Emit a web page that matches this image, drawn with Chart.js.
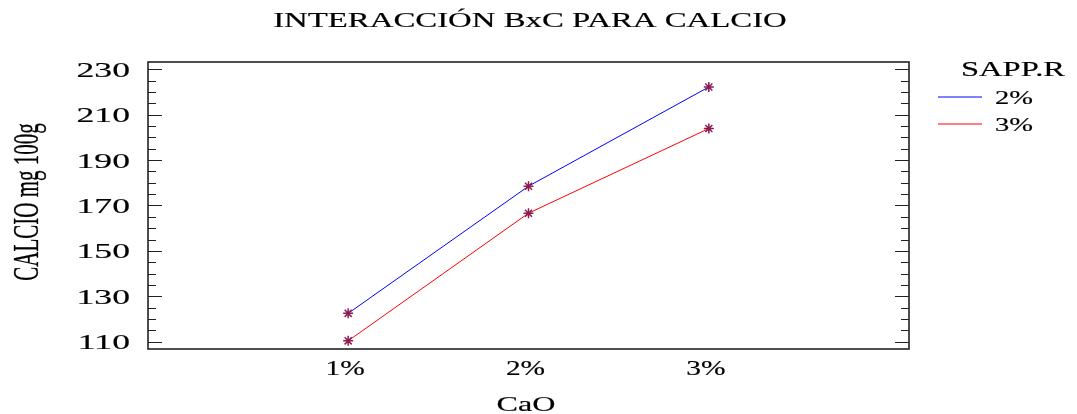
<!DOCTYPE html>
<html>
<head>
<meta charset="utf-8">
<script src="https://cdn.jsdelivr.net/npm/chart.js@4.4.1/dist/chart.umd.min.js"></script>
<style>
  html, body { margin: 0; padding: 0; background: #fff; }
  canvas { display: block; }
</style>
</head>
<body>
<canvas id="chart" width="1077" height="414"></canvas>
<script>
const categories = ['1%', '2%', '3%'];
const seriesNames = ['2%', '3%'];
const sapp2 = [122.5, 178.5, 222.2];
const sapp3 = [110.4, 166.6, 203.9];
const yLabels = [110, 130, 150, 170, 190, 210, 230];
const yMinorStep = 5;

const titleText = 'INTERACCIÓN BxC PARA CALCIO';
const xTitle = 'CaO';
const yTitle = 'CALCIO mg 100g';
const legendTitle = 'SAPP.R';

const seriesColors = ['#0000ff', '#ff0000'];
const markerColor = '#8b1c52';

// the original picture is stretched sideways, so text is drawn with a horizontal scale
function stretchText(ctx, text, x, y, size, sx, align, rotated) {
    ctx.save();
    ctx.translate(x, y);
    if (rotated) {
        ctx.rotate(-Math.PI / 2);
        ctx.scale(1, sx);
    } else {
        ctx.scale(sx, 1);
    }
    ctx.font = size + 'px "Liberation Serif"';
    ctx.textAlign = align;
    ctx.textBaseline = 'alphabetic';
    ctx.fillStyle = '#000';
    ctx.strokeStyle = '#000';
    ctx.lineWidth = 0.18;
    ctx.fillText(text, 0, 0);
    ctx.strokeText(text, 0, 0);
    ctx.restore();
}

const framePlugin = {
    id: 'frame',
    beforeDatasetsDraw(chart) {
        const ctx = chart.ctx;
        const { left, right, top, bottom } = chart.chartArea;
        const yScale = chart.scales.y;
        ctx.save();
        ctx.strokeStyle = '#222';
        ctx.lineWidth = 1.6;
        ctx.strokeRect(left, top, right - left, bottom - top);

        ctx.lineWidth = 1.2;
        ctx.beginPath();
        for (let v = yLabels[0]; v <= yLabels[yLabels.length - 1]; v += yMinorStep) {
            const py = Math.round(yScale.getPixelForValue(v)) + 0.5;
            const len = yLabels.includes(v) ? 14 : 8;
            ctx.moveTo(left, py);
            ctx.lineTo(left + len, py);
            ctx.moveTo(right, py);
            ctx.lineTo(right - len, py);
        }
        ctx.stroke();
        ctx.restore();
    },
    afterDraw(chart) {
        const ctx = chart.ctx;
        const xScale = chart.scales.x;
        const yScale = chart.scales.y;

        stretchText(ctx, titleText, 530, 27, 20, 1.64, 'center');

        yLabels.forEach(v => {
            stretchText(ctx, String(v), 130, yScale.getPixelForValue(v) + 7.5, 22, 1.62, 'right');
        });

        categories.forEach((c, i) => {
            stretchText(ctx, c, xScale.getPixelForValue(i + 1) - 3, 375, 21, 1.4, 'center');
        });

        stretchText(ctx, xTitle, 526, 411, 21, 1.53, 'center');
        stretchText(ctx, yTitle, 38, 202, 21, 1.75, 'center', true);

        // legend
        stretchText(ctx, legendTitle, 1013, 76, 21, 1.55, 'center');
        const legendY = [97, 124];
        seriesNames.forEach((name, i) => {
            ctx.save();
            ctx.strokeStyle = seriesColors[i];
            ctx.lineWidth = 1;
            ctx.beginPath();
            ctx.moveTo(938, legendY[i]);
            ctx.lineTo(982, legendY[i]);
            ctx.stroke();
            ctx.restore();
            stretchText(ctx, name, 995, legendY[i] + 6.5, 19, 1.5, 'left');
        });
    }
};

function points(values) {
    return categories.map((c, i) => ({ x: i + 1, y: values[i] }));
}

const ctx = document.getElementById('chart').getContext('2d');

const chart = new Chart(ctx, {
    type: 'line',
    data: {
        datasets: [{
            label: seriesNames[0],
            data: points(sapp2),
            borderColor: seriesColors[0],
            borderWidth: 1,
            pointStyle: 'star',
            pointRadius: 5,
            pointBorderColor: markerColor,
            pointBorderWidth: 1.5,
            tension: 0
        }, {
            label: seriesNames[1],
            data: points(sapp3),
            borderColor: seriesColors[1],
            borderWidth: 1,
            pointStyle: 'star',
            pointRadius: 5,
            pointBorderColor: markerColor,
            pointBorderWidth: 1.5,
            tension: 0
        }]
    },
    options: {
        responsive: false,
        devicePixelRatio: 1,
        animation: false,
        layout: {
            padding: { left: 148, right: 168, top: 62, bottom: 65 }
        },
        plugins: {
            legend: { display: false },
            tooltip: { enabled: false },
            title: { display: false }
        },
        scales: {
            x: { type: 'linear', min: -0.11, max: 4.11, display: false },
            y: { type: 'linear', min: 106.8, max: 233.2, display: false }
        }
    },
    plugins: [framePlugin]
});
</script>
</body>
</html>
